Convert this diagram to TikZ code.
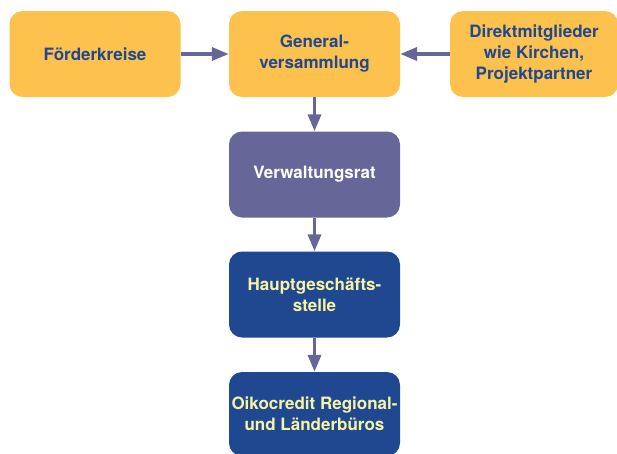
\documentclass[tikz,border=0pt]{standalone}
\usepackage{fontspec}
\setmainfont{TeX Gyre Heros}
\usetikzlibrary{arrows.meta}

\definecolor{gelb}{HTML}{FDC24D}
\definecolor{blau}{HTML}{1F4891}
\definecolor{lila}{HTML}{666699}
\definecolor{hellgelb}{HTML}{F8F3A3}

\tikzset{
  box/.style={rectangle,rounded corners=13pt,minimum width=171pt,minimum height=86pt,
    align=center,font=\fontsize{17}{21}\selectfont\bfseries,inner sep=0pt},
  gelbbox/.style={box,fill=gelb,text=blau},
  pfeil/.style={draw=lila,line width=3.6pt,-{Triangle[length=17pt,width=13pt]}}
}

\begin{document}
\begin{tikzpicture}[x=1pt,y=-1pt]
  \useasboundingbox (0,0) rectangle (617,453);
  \clip (0,0) rectangle (617,453);

  \node[gelbbox] (FK) at (95,54) {Förderkreise};
  \node[gelbbox] (GV) at (314.5,54) {General-\\versammlung};
  \node[gelbbox,minimum width=168pt] (DM) at (534,54) {Direktmitglieder\\wie Kirchen,\\Projektpartner};

  \node[box,fill=lila,text=white] (VR) at (314.5,174.5) {Verwaltungsrat};
  \node[box,fill=blau,text=hellgelb] (HG) at (314.5,294.5) {Hauptgeschäfts-\\stelle};
  \node[box,fill=blau,text=hellgelb,minimum height=84pt] (RB) at (314.5,414) {Oikocredit Regional-\\und Länderbüros};

  \draw[pfeil] (FK) -- (GV);
  \draw[pfeil] (DM) -- (GV);
  \draw[pfeil] (GV) -- (VR);
  \draw[pfeil] (VR) -- (HG);
  \draw[pfeil] (HG) -- (RB);

\end{tikzpicture}
\end{document}
